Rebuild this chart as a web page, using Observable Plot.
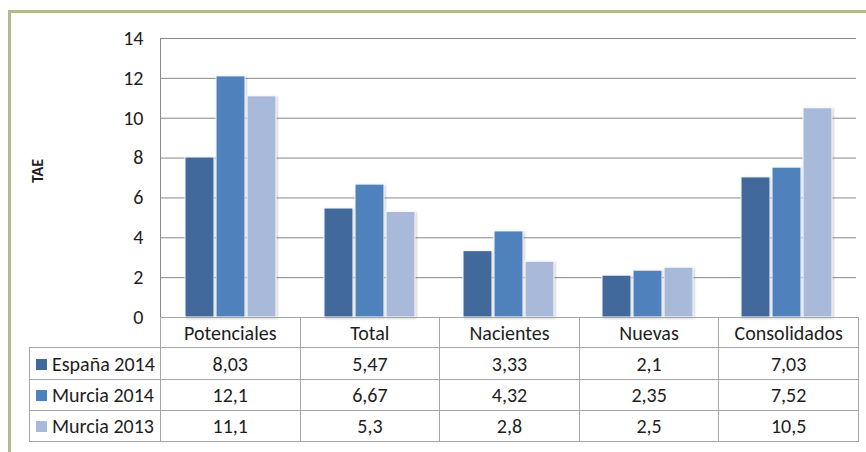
<!DOCTYPE html>
<html>
<head>
<meta charset="utf-8">
<script src="https://cdn.jsdelivr.net/npm/d3@7"></script>
<script src="https://cdn.jsdelivr.net/npm/@observablehq/plot@0.6"></script>
<style>
  html, body { margin: 0; padding: 0; background: #fff; }
  #wrap { position: relative; width: 866px; height: 452px; overflow: hidden; font-family: Carlito, "Open Sans", sans-serif; color: #1e1e1e; }
  #frame { position: absolute; left: 8px; top: 10px; width: 870px; height: 460px; border-top: 3px solid #b4b890; border-left: 3px solid #b4b890; box-sizing: border-box; }
  #chart { position: absolute; left: 0; top: 0; }
  #yline { position: absolute; left: 160px; top: 38px; width: 1px; height: 280px; background: #8a8a8a; }
  #ylabel { position: absolute; left: 37px; top: 171px; transform: translate(-50%, -50%) rotate(-90deg); font-weight: bold; font-size: 16px; white-space: nowrap; }
  #table { position: absolute; left: 29px; top: 317px; width: 829px; border-collapse: collapse; table-layout: fixed; font-size: 20px; }
  #table td { border: 1px solid #a6a6a6; text-align: center; padding: 0; white-space: nowrap; line-height: 22px; }
  #table td.corner { border: none; }
  #table td.lab { text-align: left; padding-left: 6px; }
  .key { display: inline-block; width: 11px; height: 11px; margin-right: 5px; vertical-align: 1px; }
  .bars rect { filter: drop-shadow(1px 1px 1px rgba(0,0,0,0.22)); }
</style>
</head>
<body>
<div id="wrap">
  <div id="frame"></div>
  <div id="chart"></div>
  <div id="yline"></div>
  <div id="ylabel">TAE</div>
  <table id="table"></table>
</div>
<script>
const categories = ["Potenciales", "Total", "Nacientes", "Nuevas", "Consolidados"];
const series = ["España 2014", "Murcia 2014", "Murcia 2013"];
const espana2014 = [8.03, 5.47, 3.33, 2.1, 7.03];
const murcia2014 = [12.1, 6.67, 4.32, 2.35, 7.52];
const murcia2013 = [11.1, 5.3, 2.8, 2.5, 10.5];
const yTicks = [0, 2, 4, 6, 8, 10, 12, 14];
const colors = ["#41699b", "#4f81bd", "#a9b9d9"];

const seriesValues = [espana2014, murcia2014, murcia2013];
const data = [];
series.forEach((s, i) => categories.forEach((c, j) => data.push({category: c, series: s, value: seriesValues[i][j]})));

const chart = Plot.plot({
  width: 866,
  height: 332,
  marginLeft: 160,
  marginRight: 9,
  marginTop: 38,
  marginBottom: 15,
  style: {fontFamily: "Carlito, 'Open Sans', sans-serif", fontSize: "20px", color: "#1e1e1e", background: "transparent"},
  fx: {domain: categories, padding: 0, axis: null},
  x: {domain: series, paddingInner: 0.05, paddingOuter: 0.7, axis: null},
  y: {domain: [0, 14], ticks: yTicks},
  color: {domain: series, range: colors},
  marks: [
    Plot.gridY(yTicks, {stroke: "#8a8a8a", strokeOpacity: 1}),
    Plot.axisY(yTicks, {tickSize: 0, tickPadding: 18, fontSize: 20, label: null}),
    Plot.barY(data, {fx: "category", x: "series", y: "value", fill: "series", stroke: "white", strokeWidth: 1, className: "bars"})
  ]
});
document.getElementById("chart").appendChild(chart);

const fmt = v => String(v).replace(".", ",");
const table = document.getElementById("table");
let html = '<colgroup><col style="width:131px">' + categories.map(() => '<col style="width:139.6px">').join("") + '</colgroup>';
html += '<tr style="height:30px"><td class="corner"></td>' + categories.map(c => `<td>${c}</td>`).join("") + '</tr>';
const rowH = [32, 31, 31];
series.forEach((s, i) => {
  html += `<tr style="height:${rowH[i]}px"><td class="lab"><span class="key" style="background:${colors[i]}"></span>${s}</td>` +
    seriesValues[i].map(v => `<td>${fmt(v)}</td>`).join("") + '</tr>';
});
table.innerHTML = html;
</script>
</body>
</html>
